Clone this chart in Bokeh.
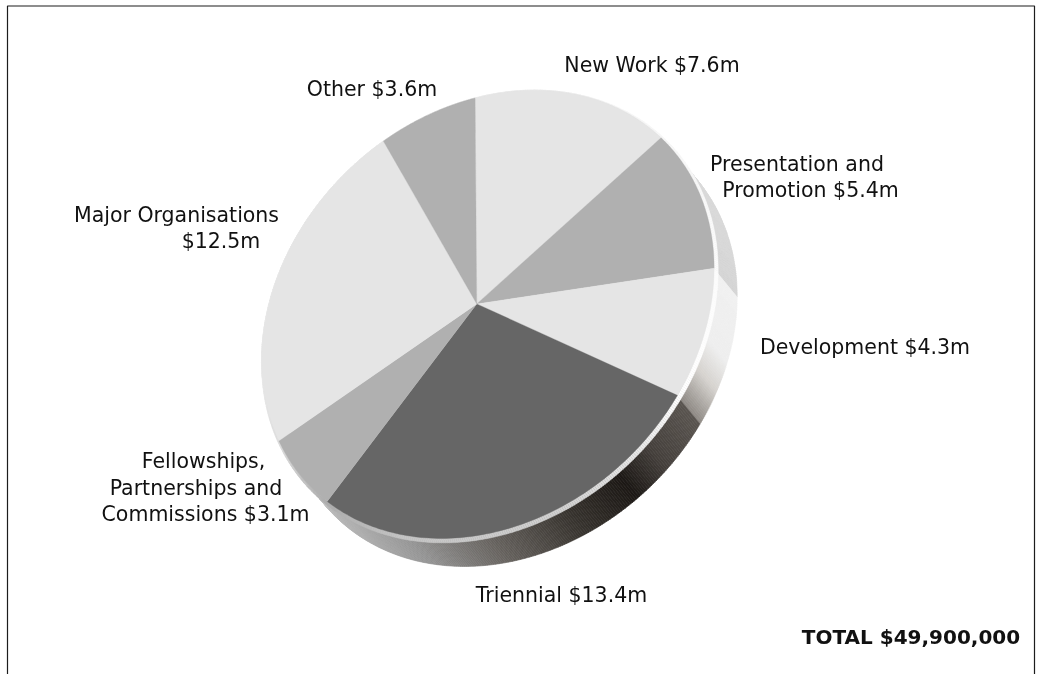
import numpy as np
from bokeh.plotting import figure
from bokeh.models import Range1d
from bokeh.core.properties import value
from bokeh.embed import file_html
from bokeh.resources import INLINE

# ---- data ----
categories = ["New Work", "Presentation and Promotion", "Development", "Triennial",
              "Fellowships, Partnerships and Commissions", "Major Organisations", "Other"]
values = [7.6, 5.4, 4.3, 13.4, 3.1, 12.5, 3.6]
fills = ["#e5e5e5", "#b0b0b0", "#e5e5e5", "#666666", "#b0b0b0", "#e5e5e5", "#b0b0b0"]

label_text = ["New Work $7.6m", "Presentation and", "Promotion $5.4m", "Development $4.3m",
              "Triennial $13.4m", "Fellowships,", "Partnerships and", "Commissions $3.1m",
              "Major Organisations", "$12.5m", "Other $3.6m"]
label_x = [651.5, 796.5, 810, 864.5, 561, 203, 195.5, 205, 176, 220.5, 371.5]
label_y = [64, 163, 189, 346, 594, 460, 487, 513, 214, 240, 88]
total_text = ["TOTAL $49,900,000"]
total_x = [910.5]
total_y = [636]

# ---- projection of the tilted disc (unit circle -> page pixels) ----
H = [202.072066, -25.9477681, 476.2460777, -63.1132132, 200.3228477, 303.4043392, -0.048766, -0.058171]
DEPTH = (23.0, 28.0)


def proj(t, r=1.0):
    x, y = r * np.sin(t), -r * np.cos(t)
    w = H[6] * x + H[7] * y + 1
    return (H[0] * x + H[1] * y + H[2]) / w, (H[3] * x + H[4] * y + H[5]) / w


def hex2rgb(c):
    return np.array([int(c[i:i + 2], 16) for i in (1, 3, 5)], float)


def ramp(stops, deg):
    d = [s[0] for s in stops]
    rgb = np.array([hex2rgb(s[1]) for s in stops])
    ch = [np.interp(deg, d, rgb[:, k]) for k in range(3)]
    return "#%02x%02x%02x" % tuple(int(round(c)) for c in ch)


edges = np.cumsum([0.0] + values) / sum(values) * 360.0
# colour stops along the side wall, in degrees clockwise from the start of the first slice
e = edges
side_stops = [(0, "#e2e2e2"), (e[1], "#dcdcdc"), (e[2] - .01, "#d4d4d4"), (e[2], "#f0f0f0"),
              (110, "#eeeeee"), (117, "#d5d2ce"), (e[3] - .01, "#8e8984"), (e[3], "#5a5550"),
              (137, "#45403c"), (146, "#1c1815"), (160, "#38342f"), (178, "#66625e"),
              (198, "#949494"), (e[4], "#b4b4b4"), (e[5], "#d0d0d0"), (360, "#e2e2e2")]
rim_stops = [(0, "#f2f2f2"), (60, "#f6f6f6"), (90, "#fbfbfb"), (e[3], "#ffffff"), (140, "#e8e8e8"),
             (160, "#d2d2d2"), (200, "#c4c4c4"), (e[4], "#acacac"), (e[5], "#dadada"), (262, "#ececec"),
             (360, "#f0f0f0")]

p = figure(width=1047, height=674, x_range=Range1d(0, 1047), y_range=Range1d(674, 0),
           output_backend="svg", toolbar_location=None, min_border=0,
           margin=(0, 0, 0, 0),
           styles={"position": "fixed", "left": "0px", "top": "0px"})
p.axis.visible = False
p.grid.visible = False
p.outline_line_color = None
p.background_fill_color = "#ffffff"

# frame: open at the bottom
p.multi_line([[7, 7, 1034, 1034]], [[674, 5.5, 5.5, 674]], line_color="#1c1c1c", line_width=1.2)

# side wall
n = 720
dt = 360.0 / n
xs, ys, cs = [], [], []
for i in range(n):
    a, b = i * dt, (i + 1) * dt
    x0, y0 = proj(np.radians(a))
    x1, y1 = proj(np.radians(b))
    xs.append([x0, x1, x1 + DEPTH[0], x0 + DEPTH[0]])
    ys.append([y0, y1, y1 + DEPTH[1], y0 + DEPTH[1]])
    cs.append(ramp(side_stops, a + dt / 2))
p.patches(xs, ys, fill_color=cs, line_color=cs, line_width=0.6)

# thin rim between the wall and the face
xs, ys, cs = [], [], []
for i in range(n):
    a, b = i * dt, (i + 1) * dt
    x0, y0 = proj(np.radians(a))
    x1, y1 = proj(np.radians(b))
    x2, y2 = proj(np.radians(b), 1.009)
    x3, y3 = proj(np.radians(a), 1.009)
    xs.append([x0, x1, x2 + 1.8, x3 + 1.8])
    ys.append([y0, y1, y2 + 2.2, y3 + 2.2])
    cs.append(ramp(rim_stops, a + dt / 2))
p.patches(xs, ys, fill_color=cs, line_color=cs, line_width=0.4)

# top face
cx, cy = proj(0.0, 0.0)
xs, ys = [], []
for a, b in zip(edges[:-1], edges[1:]):
    tt = np.radians(np.linspace(a, b, 90))
    X, Y = proj(tt)
    xs.append([float(cx)] + list(X))
    ys.append([float(cy)] + list(Y))
p.patches(xs, ys, fill_color=fills, line_color=fills, line_width=0.3)

p.text(label_x, label_y, text=label_text, text_font=value("DejaVu Sans"), text_font_size="20.5px",
       text_color="#111111", text_align="center", text_baseline="middle")
p.text(total_x, total_y, text=total_text, text_font=value("DejaVu Sans"), text_font_size="20px",
       text_font_style="bold", text_color="#111111", text_align="center", text_baseline="middle")

open("out.html", "w").write(file_html(p, INLINE))
